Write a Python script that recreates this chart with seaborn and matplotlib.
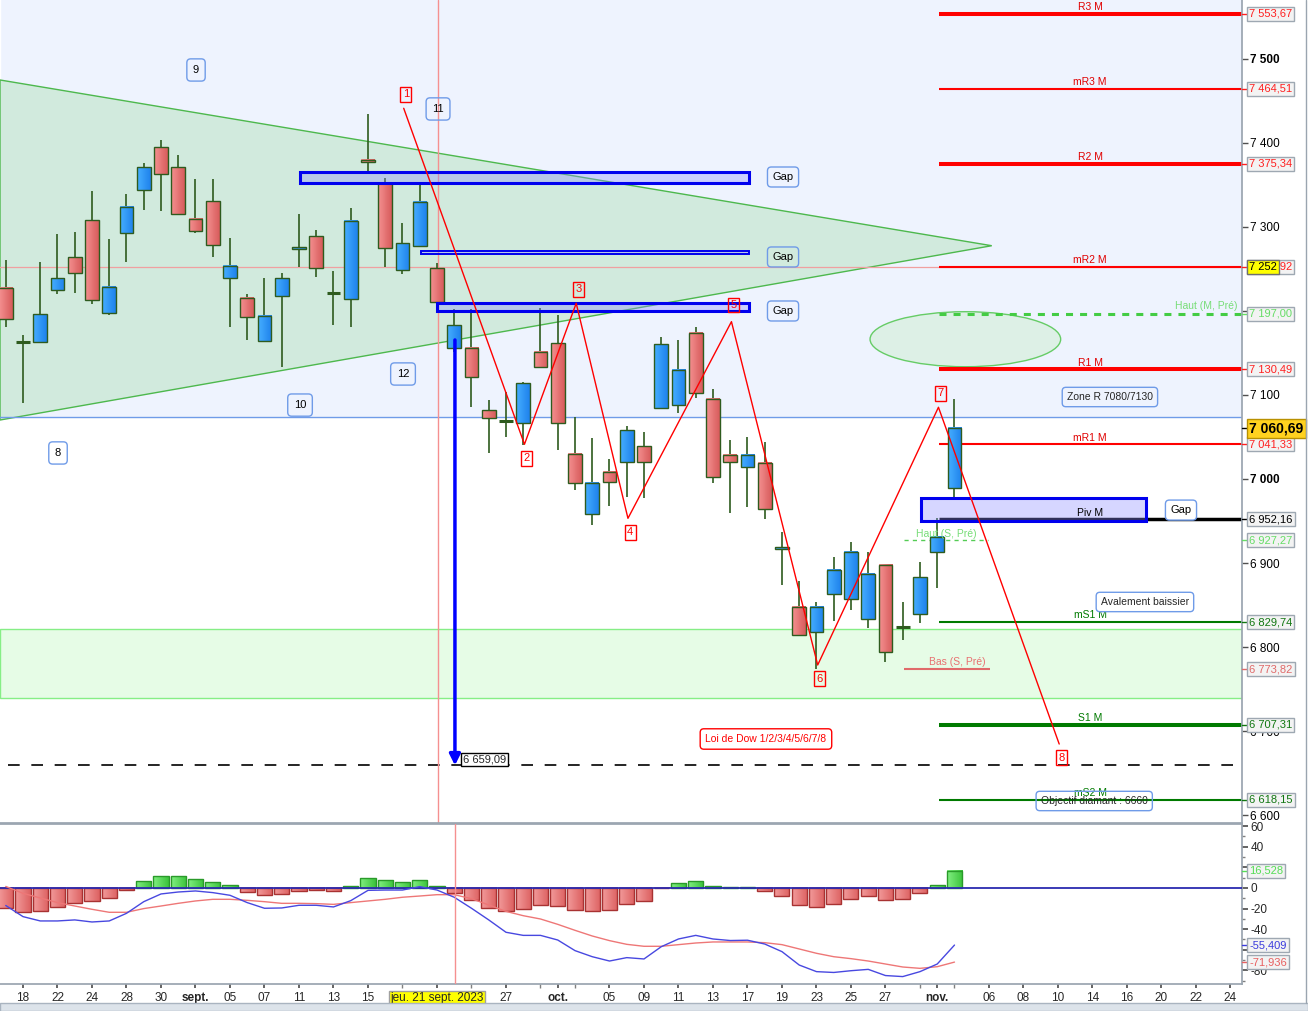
import numpy as np
import pandas as pd
import matplotlib
matplotlib.use("Agg")
import matplotlib.pyplot as plt
import matplotlib.transforms as mtransforms
from matplotlib.patches import Rectangle, Polygon, Ellipse
from matplotlib.colors import LinearSegmentedColormap
import seaborn as sns

# ------------------------------------------------------------------ data
trading_days = pd.bdate_range("2023-08-17", "2023-11-24")

candle_open = [7227, 7163, 7163, 7225, 7264, 7308, 7198, 7293, 7344, 7395,
               7371, 7310, 7331, 7239, 7216, 7164, 7218, 7274, 7289, 7222,
               7214, 7380, 7352, 7249, 7277, 7251, 7156, 7156, 7082, 7070,
               7067, 7151, 7162, 7030, 6958, 7008, 7020, 7039, 7085, 7088,
               7174, 7095, 7029, 7014, 7019, 6917, 6848, 6818, 6863, 6857,
               6833, 6898, 6824, 6839, 6913, 6989]
candle_high = [7261, 7171, 7258, 7292, 7294, 7343, 7286, 7339, 7376, 7404,
               7386, 7357, 7357, 7287, 7220, 7239, 7245, 7316, 7296, 7248,
               7323, 7435, 7358, 7305, 7350, 7257, 7202, 7202, 7094, 7104,
               7116, 7204, 7195, 7074, 7049, 7024, 7063, 7056, 7169, 7166,
               7181, 7107, 7046, 7050, 7044, 6937, 6879, 6854, 6907, 6925,
               6913, 6898, 6854, 6901, 6954, 7095]
candle_low = [7181, 7090, 7163, 7220, 7221, 7208, 7195, 7258, 7320, 7319,
              7315, 7293, 7264, 7181, 7166, 7164, 7133, 7252, 7241, 7183,
              7181, 7366, 7252, 7244, 7277, 7198, 7151, 7086, 7031, 7050,
              7041, 7133, 7034, 6987, 6945, 6968, 6979, 6977, 7083, 7079,
              7096, 6995, 6960, 6967, 6952, 6874, 6814, 6774, 6831, 6844,
              6823, 6782, 6808, 6829, 6870, 6979]
candle_close = [7190, 7162, 7196, 7239, 7245, 7213, 7229, 7324, 7371, 7363,
                7316, 7295, 7279, 7254, 7193, 7194, 7239, 7276, 7251, 7221,
                7307, 7377, 7275, 7281, 7330, 7211, 7183, 7121, 7073, 7069,
                7114, 7133, 7067, 6995, 6995, 6996, 7058, 7020, 7161, 7130,
                7102, 7002, 7020, 7029, 6964, 6919, 6814, 6848, 6892, 6913,
                6887, 6794, 6823, 6883, 6931, 7060.69]

macd_hist = [-19.7, -23.6, -22.6, -18.8, -14.9, -12.9, -10.0, -2.3, 6.5, 11.4,
             11.4, 8.4, 5.5, 2.6, -4.2, -7.1, -6.1, -3.2, -2.3, -3.2,
             1.6, 9.4, 7.4, 5.5, 7.4, 1.6, -5.2, -12.0, -19.7, -22.6,
             -20.7, -16.8, -17.8, -21.7, -22.6, -21.7, -15.8, -12.9, -0.4, 4.5,
             6.5, 1.6, 0.7, 0.7, -3.2, -8.1, -16.8, -18.8, -15.8, -11.0,
             -8.1, -12.0, -11.0, -5.2, 2.6, 16.528]
macd_line = [-17.0, -27.8, -32.0, -32.0, -31.0, -33.0, -32.0, -24.6, -13.3, -5.8,
             -3.9, -2.9, -4.5, -7.1, -14.2, -19.7, -19.4, -16.8, -16.8, -18.4,
             -12.3, -2.3, -2.0, -2.0, 1.3, -2.0, -9.0, -19.7, -31.0, -43.0,
             -46.0, -46.0, -50.5, -60.8, -66.7, -70.9, -67.6, -68.9, -57.0, -49.5,
             -46.0, -49.5, -51.0, -50.7, -54.4, -61.8, -74.8, -81.2, -82.0, -80.3,
             -79.0, -85.0, -86.0, -81.2, -73.8, -55.409]
signal_line = [1.5, -5.2, -9.7, -14.2, -17.5, -20.7, -23.6, -23.6, -20.0, -17.5,
               -14.9, -12.6, -11.0, -11.0, -12.0, -13.3, -14.9, -14.9, -15.2, -15.9,
               -14.2, -12.6, -11.0, -9.0, -7.8, -6.5, -6.5, -10.4, -16.5, -22.7,
               -26.9, -30.1, -35.3, -41.1, -46.6, -51.1, -54.7, -56.6, -56.6, -55.0,
               -53.4, -52.4, -52.4, -52.4, -53.1, -55.0, -59.2, -63.4, -66.7, -68.6,
               -70.9, -73.8, -76.7, -78.0, -76.4, -71.936]

pivot_names = ["R3 M", "mR3 M", "R2 M", "mR2 M", "R1 M", "mR1 M",
               "Piv M", "mS1 M", "S1 M", "mS2 M"]
pivot_values = [7553.67, 7464.51, 7375.34, 7252.92, 7130.49, 7041.33,
                6952.16, 6829.74, 6707.31, 6618.15]
prev_month_high = 7197.00
prev_week_high = 6927.27
prev_week_low = 6773.82
last_price = 7060.69
crosshair_price = 7252.0
target_price = 6659.09
arrow_start_price = 7165.5
zone_top_level = 7074.0
support_band = [6739.0, 6821.0]

gap_low = [7352.0, 7267.5, 7200.0, 6950.4]
gap_high = [7365.0, 7272.0, 7210.0, 6977.7]

dow_labels = ["1", "2", "3", "4", "5", "6", "7", "8"]
dow_dates = ["2023-09-19", "2023-09-28", "2023-10-03", "2023-10-06",
             "2023-10-16", "2023-10-23", "2023-11-01", "2023-11-10"]
dow_prices = [7441.3, 7041.3, 7209.2, 6953.2, 7187.3, 6778.6, 7085.4, 6684.5]

triangle_upper = [7475.0, 7277.7]   # left edge -> apex
triangle_lower = [7070.2, 7277.7]

tick_dates = ["2023-08-18", "2023-08-22", "2023-08-24", "2023-08-28", "2023-08-30",
              "2023-09-01", "2023-09-05", "2023-09-07", "2023-09-11", "2023-09-13",
              "2023-09-15", "2023-09-21", "2023-09-27", "2023-10-02", "2023-10-05",
              "2023-10-09", "2023-10-11", "2023-10-13", "2023-10-17", "2023-10-19",
              "2023-10-23", "2023-10-25", "2023-10-27", "2023-11-01", "2023-11-06",
              "2023-11-08", "2023-11-10", "2023-11-14", "2023-11-16", "2023-11-20",
              "2023-11-22", "2023-11-24"]
tick_labels = ["18", "22", "24", "28", "30", "sept.", "05", "07", "11", "13",
               "15", "jeu. 21 sept. 2023", "27", "oct.", "05", "09", "11", "13",
               "17", "19", "23", "25", "27", "nov.", "06", "08", "10", "14",
               "16", "20", "22", "24"]

# ------------------------------------------------------------------ style
sns.set_theme(style="white")
plt.rcParams["font.family"] = ["Liberation Sans", "DejaVu Sans"]
plt.rcParams["axes.edgecolor"] = "#9AA5B0"


def pos_of(d):
    return trading_days.get_loc(pd.Timestamp(d))


def fmt_price(v):
    return f"{v:,.2f}".replace(",", " ").replace(".", ",")


def grad_rect(ax, x0, x1, y0, y1, c0, c1, ec, z, lw=1.0):
    cmap = LinearSegmentedColormap.from_list("g", [c0, c1])
    ax.imshow(np.linspace(0, 1, 16)[None, :], cmap=cmap, extent=(x0, x1, y0, y1),
              aspect="auto", interpolation="bilinear", zorder=z)
    ax.add_patch(Rectangle((x0, y0), x1 - x0, y1 - y0, fill=False, ec=ec,
                           lw=lw, zorder=z + 0.01))


W, H = 1308, 1011
fig = plt.figure(figsize=(W / 100, H / 100), dpi=100)
fig.patch.set_facecolor("white")
ax = fig.add_axes([0, 1 - 823 / H, 1242 / W, 823 / H])
ax2 = fig.add_axes([0, 1 - 984 / H, 1242 / W, 160 / H])

XMIN, XMAX = -0.3333, 71.667
YMIN, YMAX = 6590.5, 7570.2
positions = np.arange(len(candle_open))

# ------------------------------------------------------------------ background zones
ax.axhspan(zone_top_level, 7700, facecolor="#EEF3FE", zorder=0)
ax.axhline(zone_top_level, color="#6F9BE8", lw=1.0, zorder=1.6)
ax.axhspan(support_band[0], support_band[1], facecolor="#E6FCE6",
           edgecolor="#86EE86", lw=1.0, zorder=0.5)

apex_pos = 57.16
tri = Polygon([[XMIN, triangle_upper[0]], [apex_pos, triangle_upper[1]],
               [XMIN, triangle_lower[0]]], closed=True, fc="#D1EADD",
              ec="#4DB84D", lw=1.0, zorder=1)
ax.add_patch(tri)

ax.axhline(crosshair_price, color="#F0A0A0", lw=0.9, zorder=1.7)
ax.axvline(25.08, color="#F59090", lw=1.0, zorder=2.5)

ax.add_patch(Ellipse((55.63, 7166.4), 11.05, 65.5, fc="#DDF0E6", ec="#66CC66",
                     lw=1.0, zorder=1.8))

# ------------------------------------------------------------------ pivot levels
piv_start = 54.1
pivot_style = {
    "R3 M": ("#FF0000", 2.9), "mR3 M": ("#FF0000", 1.5), "R2 M": ("#FF0000", 2.9),
    "mR2 M": ("#FF0000", 1.5), "R1 M": ("#FF0000", 2.9), "mR1 M": ("#FF0000", 1.5),
    "Piv M": ("#000000", 2.5), "mS1 M": ("#007A00", 1.5), "S1 M": ("#007A00", 2.9),
    "mS2 M": ("#007A00", 1.5),
}
for name, v in zip(pivot_names, pivot_values):
    c, lw = pivot_style[name]
    ax.hlines(v, piv_start, XMAX, colors=c, lw=lw, zorder=2)
    ax.annotate(name, (62.86, v), xytext=(0, 1.2), textcoords="offset points",
                ha="center", va="bottom", fontsize=7.5,
                color="#E00000" if c == "#FF0000" else c, zorder=7)

ax.hlines(prev_month_high, piv_start, XMAX, colors="#44CC44", lw=2.2,
          linestyles=(0, (2.3, 2.3)), zorder=2.1)
ax.annotate("Haut (M, Pré)", (71.38, prev_month_high), xytext=(0, 2),
            textcoords="offset points", ha="right", va="bottom", fontsize=7.5,
            color="#77DD77", zorder=7)
ax.hlines(prev_week_high, 52.07, 56.94, colors="#55CC55", lw=1.0,
          linestyles=(0, (3, 3)), zorder=2.1)
ax.annotate("Haut (S, Pré)", (54.5, prev_week_high), xytext=(0, 1),
            textcoords="offset points", ha="center", va="bottom", fontsize=7.5,
            color="#77DD77", zorder=7)
ax.hlines(prev_week_low, 52.07, 57.06, colors="#E06A6A", lw=1.5, zorder=2.1)
ax.annotate("Bas (S, Pré)", (55.14, prev_week_low), xytext=(0, 1.5),
            textcoords="offset points", ha="center", va="bottom", fontsize=7.5,
            color="#E87070", zorder=7)

ax.hlines(target_price, 0.13, XMAX, colors="black", lw=1.2,
          linestyles=(0, (7, 7)), zorder=2)

# ------------------------------------------------------------------ candles
wick_c = "#2E5B1E"
bw = 0.8
for p, o, h, l, c in zip(positions, candle_open, candle_high, candle_low, candle_close):
    ax.vlines(p, l, h, colors=wick_c, lw=1.2, zorder=3)
    lo, hi = min(o, c), max(o, c)
    if hi - lo < 1.5:
        ax.hlines((o + c) / 2, p - bw / 2, p + bw / 2, colors=wick_c, lw=2.2, zorder=3.2)
    elif c > o:
        grad_rect(ax, p - bw / 2, p + bw / 2, lo, hi, "#45AEFF", "#1F82EC", wick_c, 3.1)
    else:
        grad_rect(ax, p - bw / 2, p + bw / 2, lo, hi, "#F49090", "#D85C5C", wick_c, 3.1)

# ------------------------------------------------------------------ gaps
gap_x = [(17.06, 43.09), (24.06, 43.09), (25.02, 43.09), (53.04, 66.1)]
gap_lw = [2.2, 1.4, 2.2, 2.2]
for (x0, x1), lo, hi, glw in zip(gap_x, gap_low, gap_high, gap_lw):
    ax.add_patch(Rectangle((x0, lo), x1 - x0, hi - lo, fc=(0.55, 0.55, 1.0, 0.35),
                           ec="#0000EE", lw=glw, zorder=4))

blue_box = dict(boxstyle="round,pad=0.45,rounding_size=0.35", ec="#6F9BE8", lw=1.0)
for (gx, gy, fc) in [(45.06, 7359.5, "none"), (45.06, 7264.3, "none"),
                     (45.06, 7200.0, "none"), (68.13, 6963.0, "white")]:
    ax.text(gx, gy, "Gap", ha="center", va="center", fontsize=8, color="black",
            zorder=8, bbox=dict(blue_box, fc=fc))

num_box = dict(boxstyle="round,pad=0.55,rounding_size=0.35", ec="#6F9BE8", lw=1.0, fc="none")
for txt, nx, ny in [("9", 11.03, 7486.9), ("11", 25.06, 7440.5), ("12", 23.03, 7125.0),
                    ("10", 17.06, 7088.0), ("8", 3.03, 7031.0)]:
    ax.text(nx, ny, txt, ha="center", va="center", fontsize=8, color="black",
            zorder=8, bbox=num_box)

ax.text(64.01, 7097.6, "Zone R 7080/7130", ha="center", va="center", fontsize=7.5,
        zorder=8, bbox=dict(blue_box, fc="none"))
ax.text(66.04, 6853.6, "Avalement baissier", ha="center", va="center", fontsize=7.5,
        zorder=8, bbox=dict(blue_box, fc="white"))
ax.text(63.1, 6616.7, "Objectif diamant : 6660", ha="center", va="center", fontsize=7.5,
        zorder=8, bbox=dict(blue_box, fc="none"))
ax.text(44.07, 6690.5, "Loi de Dow 1/2/3/4/5/6/7/8", ha="center", va="center",
        fontsize=7.5, color="#FF0000", zorder=8,
        bbox=dict(boxstyle="round,pad=0.5,rounding_size=0.35", ec="#FF0000", fc="white", lw=1.0))

# ------------------------------------------------------------------ Dow zigzag
dow_pos = [pos_of(d) + 0.07 for d in dow_dates]
sns.lineplot(x=dow_pos, y=dow_prices, ax=ax, color="#FF0000", lw=1.0, sort=False,
             estimator=None, zorder=5)
for i, (lab, px, py) in enumerate(zip(dow_labels, dow_pos, dow_prices)):
    dy = 10 if i % 2 == 0 else -10
    if lab == "5":
        dy = 12
    ax.annotate(lab, (px, py), xytext=(1.5, dy), textcoords="offset points",
                ha="center", va="center", fontsize=8, color="#FF0000", zorder=8,
                bbox=dict(boxstyle="square,pad=0.22", ec="#FF0000", fc="none", lw=1.0))

# ------------------------------------------------------------------ projection arrow
arrow_pos = 26.04
ax.annotate("", xy=(arrow_pos, target_price), xytext=(arrow_pos, arrow_start_price),
            arrowprops=dict(arrowstyle="-|>", color="#0000FF", lw=2.5,
                            mutation_scale=16, shrinkA=0, shrinkB=0), zorder=6)
ax.text(26.5, 6666.0, fmt_price(target_price), ha="left", va="center", fontsize=8,
        zorder=8, bbox=dict(boxstyle="square,pad=0.15", fc="white", ec="black", lw=1.0))

# ------------------------------------------------------------------ main axis format
ax.set_xlim(XMIN, XMAX)
ax.set_ylim(YMIN, YMAX)
ax.set_xticks([])
ax.yaxis.tick_right()
yt = [7500, 7400, 7300, 7200, 7100, 7000, 6900, 6800, 6700, 6600]
hidden_main = (7200,)
ax.set_yticks(yt, ["" if v in hidden_main else f"{v:,}".replace(",", " ") for v in yt])
ax.tick_params(axis="y", which="major", length=4, width=1, color="#505050",
               pad=2, labelsize=8.5, labelcolor="black", right=True, left=False)
for lbl in ax.get_yticklabels():
    if lbl.get_text() in ("7 500", "7 000"):
        lbl.set_fontweight("bold")
for s in ["top", "left"]:
    ax.spines[s].set_visible(False)
ax.spines["right"].set_color("#9AA5B0")
ax.spines["bottom"].set_color("#9AA5B0")
ax.grid(False)

tr = mtransforms.blended_transform_factory(ax.transAxes, ax.transData)


def right_label(axx, trf, y, text, color, fc="#F3F3F3", ec="#9EA8B2",
                weight="normal", size=8, z=9):
    axx.plot([1.0, 1.0045], [y, y], color=color, lw=1, transform=trf,
             clip_on=False, zorder=z)
    axx.text(1.0058, y, text, transform=trf, ha="left", va="center", fontsize=size,
             color=color, fontweight=weight, clip_on=False, zorder=z,
             bbox=dict(boxstyle="square,pad=0.18", fc=fc, ec=ec, lw=1))


label_colors = {"R3 M": "#FF2020", "mR3 M": "#FF2020", "R2 M": "#FF2020",
                "mR2 M": "#FF2020", "R1 M": "#FF2020", "mR1 M": "#FF2020",
                "Piv M": "#000000", "mS1 M": "#117711", "S1 M": "#117711",
                "mS2 M": "#117711"}
for name, v in zip(pivot_names, pivot_values):
    right_label(ax, tr, v, fmt_price(v), label_colors[name])
right_label(ax, tr, prev_month_high, fmt_price(prev_month_high), "#66DD66")
right_label(ax, tr, prev_week_high, fmt_price(prev_week_high), "#66DD66")
right_label(ax, tr, prev_week_low, fmt_price(prev_week_low), "#E06A6A")
# crosshair price tag over mR2
ax.text(1.0058, pivot_values[3], f"{int(crosshair_price):,}".replace(",", " "),
        transform=tr, ha="left", va="center", fontsize=8, color="black",
        clip_on=False, zorder=10,
        bbox=dict(boxstyle="square,pad=0.18", fc="#FFFF00", ec="#707070", lw=1))
# last price
right_label(ax, tr, last_price, fmt_price(last_price), "black", fc="#FFD21F",
            ec="#B89000", weight="bold", size=10, z=10)

# ------------------------------------------------------------------ MACD panel
ax2.axhline(0, color="#2B2BB0", lw=1.3, zorder=3)
hw = 0.87
for p, v in zip(positions, macd_hist):
    lo, hi = min(0, v), max(0, v)
    if hi - lo < 0.05:
        continue
    if v >= 0:
        grad_rect(ax2, p - hw / 2, p + hw / 2, lo, hi, "#80EE80", "#3CC43C", "#2A9A2A", 2)
    else:
        grad_rect(ax2, p - hw / 2, p + hw / 2, lo, hi, "#F29A9A", "#DD6262", "#A83232", 2)

sns.lineplot(x=positions, y=signal_line, ax=ax2, color="#EE7777", lw=1.0, zorder=4)
sns.lineplot(x=positions, y=macd_line, ax=ax2, color="#4848E0", lw=1.0, zorder=4.1)
ax2.axvline(26.07, color="#F59090", lw=1.0, zorder=5)

ax2.set_xlim(XMIN, XMAX)
ax2.set_ylim(-93.2, 62.1)
ax2.yaxis.tick_right()
ytl = [60, 40, 20, 0, -20, -40, -60, -80]
hidden_macd = (20, -60)
ax2.set_yticks(ytl, ["" if v in hidden_macd else str(v) for v in ytl])
ax2.set_yticks(np.arange(-90, 61, 10), minor=True)
ax2.tick_params(axis="y", which="major", length=4, color="#505050", pad=2,
                labelsize=8.5, right=True, left=False)
ax2.tick_params(axis="y", which="minor", length=2, color="#808080", right=True, left=False)
tick_pos = [pos_of(d) for d in tick_dates]
ax2.set_xticks(tick_pos, tick_labels)
ax2.set_xticks(np.arange(1, 72, 2), minor=True)
ax2.tick_params(axis="x", which="major", length=3, color="#505050", pad=3,
                labelsize=8.5, bottom=True)
ax2.tick_params(axis="x", which="minor", length=3, color="#808080", bottom=True)
for lbl in ax2.get_xticklabels():
    t = lbl.get_text()
    if t in ("sept.", "oct.", "nov."):
        lbl.set_fontweight("bold")
    if t.startswith("jeu."):
        lbl.set_bbox(dict(boxstyle="square,pad=0.15", fc="#FFFF00", ec="#A0A0A0", lw=1))
ax2.spines["left"].set_visible(False)
for s in ["top", "right", "bottom"]:
    ax2.spines[s].set_color("#9AA5B0")
ax2.set_xlabel("")
ax2.set_ylabel("")
ax2.grid(False)
if ax2.get_legend() is not None:
    ax2.get_legend().remove()

tr2 = mtransforms.blended_transform_factory(ax2.transAxes, ax2.transData)
right_label(ax2, tr2, macd_hist[-1], f"{macd_hist[-1]:.3f}".replace(".", ","), "#55DD55")
right_label(ax2, tr2, macd_line[-1], f"{macd_line[-1]:.3f}".replace(".", ","), "#3A3ADD")
right_label(ax2, tr2, signal_line[-1], f"{signal_line[-1]:.3f}".replace(".", ","), "#E86060")

# ------------------------------------------------------------------ window chrome
fig.patches.append(Rectangle((0, 0), 1, 8 / H, transform=fig.transFigure,
                             fc="#DCE3EA", ec="#A9B4C0", lw=1, zorder=0))
fig.lines.append(plt.Line2D([1306 / W, 1306 / W], [8 / H, 1], transform=fig.transFigure,
                            color="#9AA5B0", lw=1))

fig.savefig("out.png", dpi=100)
